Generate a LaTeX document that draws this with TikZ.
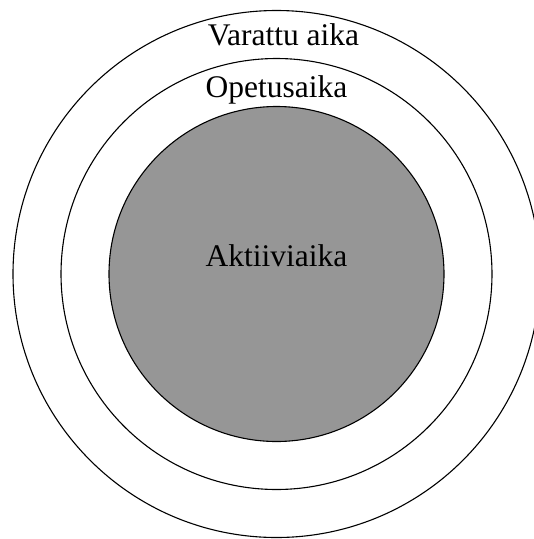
\documentclass[tikz,border=0pt]{standalone}
\usepackage{fontspec}
\setmainfont{Liberation Serif}
\definecolor{activegray}{RGB}{150,150,150}
\begin{document}
\begin{tikzpicture}[x=1pt,y=-1pt,
    ring/.style={draw=black,line width=1.1pt},
    label/.style={anchor=base,inner sep=0pt,font=\fontsize{31.5}{38}\selectfont}]
  \useasboundingbox (0,0) rectangle (534,539);
  \clip (0,0) rectangle (534,539);
  \coordinate (c) at (276.5,274);
  % nested time rings
  \draw[ring] (c) circle[radius=263.5];
  \draw[ring] (c) circle[radius=215.5];
  \draw[ring,fill=activegray] (c) circle[radius=167.5];
  % ring labels
  \node[label] (varattu) at (283.5,45) {Varattu aika};
  \node[label] (opetus) at (276.5,97) {Opetusaika};
  \node[label] (aktiivi) at (276.5,266) {Aktiiviaika};
\end{tikzpicture}
\end{document}
